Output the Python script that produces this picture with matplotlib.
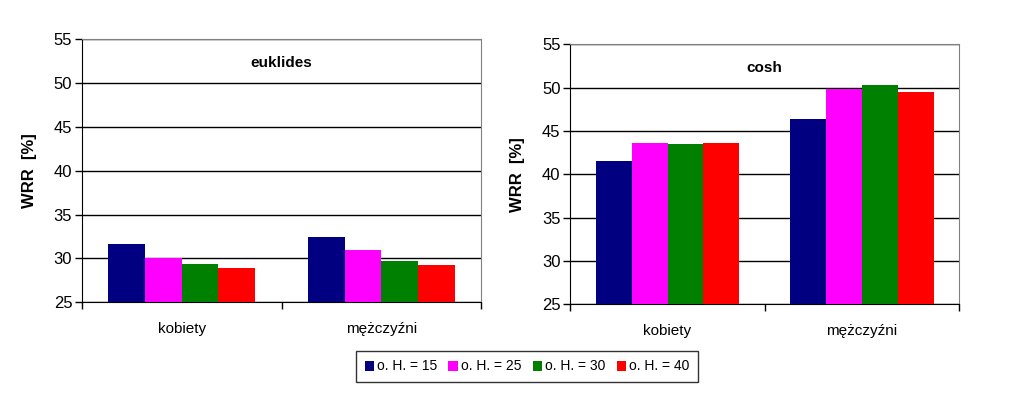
import numpy as np
import matplotlib.pyplot as plt
from matplotlib.patches import Patch

plt.rcParams['font.family'] = ['Liberation Sans', 'DejaVu Sans']

categories = ['kobiety', 'mężczyźni']
series = ['o. H. = 15', 'o. H. = 25', 'o. H. = 30', 'o. H. = 40']
colors = ['#000080', '#ff00ff', '#008000', '#ff0000']

# rows = series, cols = categories
euklides = [[31.65, 32.45],
            [30.05, 30.95],
            [29.35, 29.7],
            [28.9, 29.25]]
cosh = [[41.55, 46.4],
        [43.6, 49.85],
        [43.5, 50.3],
        [43.6, 49.5]]

fig = plt.figure(figsize=(10.15, 3.99), dpi=100)
ax1 = fig.add_axes([82 / 1015, (399 - 302.3) / 399, 399 / 1015, 263 / 399])
ax2 = fig.add_axes([570.3 / 1015, (399 - 304.3) / 399, 389 / 1015, 260 / 399])

bw = 0.184
x = np.arange(len(categories))

for ax, vals, title in [(ax1, euklides, 'euklides'), (ax2, cosh, 'cosh')]:
    for i, (v, c) in enumerate(zip(vals, colors)):
        ax.bar(x + (i - 1.5) * bw, np.array(v) - 25, bw, bottom=25, color=c,
               zorder=3, label=series[i])
    ax.set_xlim(-0.5, 1.5)
    ax.set_ylim(25, 55)
    ax.set_yticks(range(25, 60, 5))
    ax.yaxis.grid(True, color='black', linewidth=1, zorder=0)
    ax.set_xticks(x)
    ax.set_xticklabels(categories, fontsize=11)
    ax.set_xticks([-0.5, 0.5, 1.5], minor=True)
    ax.tick_params(axis='x', which='major', length=0, pad=14)
    ax.tick_params(axis='x', which='minor', length=5, width=1, color='black')
    ax.tick_params(axis='y', length=5, width=1, labelsize=12, pad=2)
    for s in ['top', 'right']:
        ax.spines[s].set_color('#808080')
    for s in ['left', 'bottom']:
        ax.spines[s].set_color('black')
    ax.set_ylabel('WRR  [%]', fontsize=12, fontweight='bold', labelpad=12)
    ax.text(0.5, 0.91, title, transform=ax.transAxes, ha='center', va='center',
            fontsize=11, fontweight='bold')

handles = [Patch(facecolor=c, edgecolor='none') for c in colors]
leg = fig.legend(handles, series, loc='center', bbox_to_anchor=(527 / 1015, (399 - 366.5) / 399),
                 ncol=4, fontsize=10, frameon=True, fancybox=False, handlelength=0.7,
                 handleheight=0.7, handletextpad=0.2, columnspacing=0.8, borderpad=0.6,
                 borderaxespad=0)
leg.get_frame().set_edgecolor('black')
leg.get_frame().set_linewidth(1)

fig.savefig('out.png', dpi=100)
